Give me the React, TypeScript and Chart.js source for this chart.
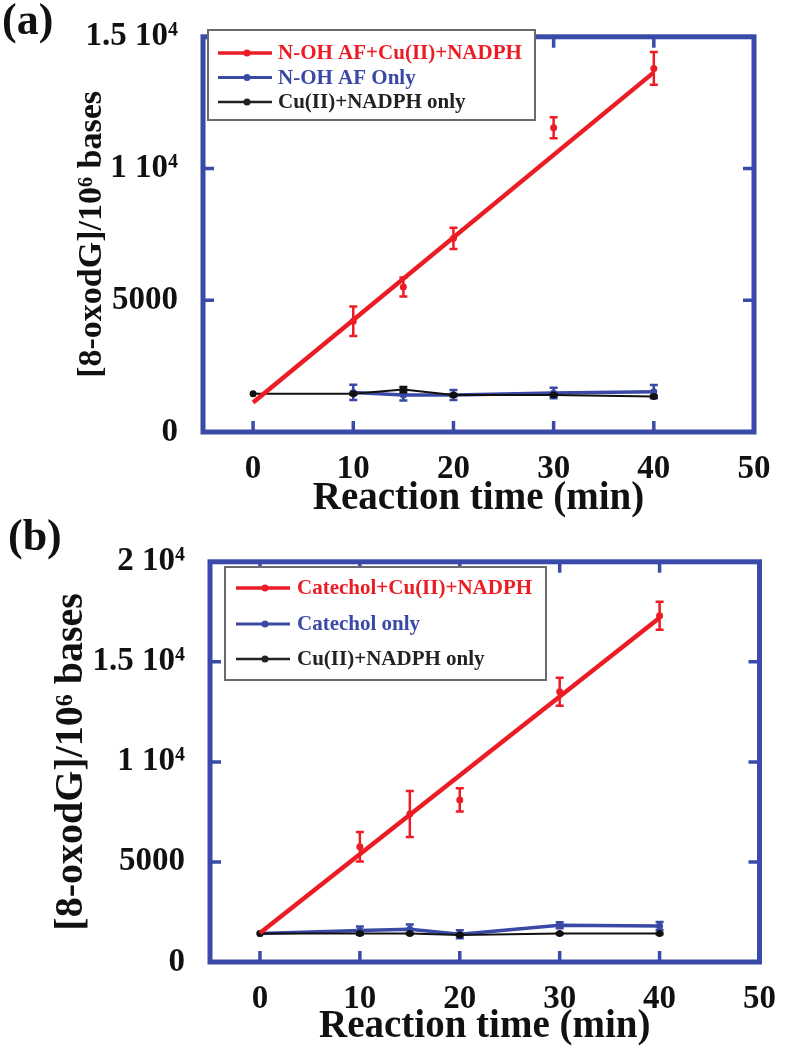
import React, { useEffect, useRef } from 'react';
import { Chart, registerables } from 'chart.js';

Chart.register(...registerables);

const FONT = "'Liberation Serif', 'Times New Roman', Times, serif";
const RED = '#ec1c24';
const BLUE = '#3a49a6';
const BLACK = '#111111';
const FRAME = '#3a4aa8';

// ---------- shared ----------
const xTickValues = [0, 10, 20, 30, 40, 50];
const xTitle = 'Reaction time (min)';
const yTitle = '[8-oxodG]/10⁶ bases';
const fitTimes = [0, 40];

// ---------- panel (a) ----------
const yTickValuesA = [0, 5000, 10000, 15000];
const yTickLabelsA = ['0', '5000', '1 10⁴', '1.5 10⁴'];
const redTimesA = [10, 15, 20, 30, 40];
const redA = [4200, 5500, 7350, 11550, 13800];
const redErrA = [560, 360, 400, 400, 620];
const redFitA = [1120, 13650];
const blueTimesA = [10, 15, 20, 30, 40];
const blueA = [1500, 1400, 1400, 1480, 1530];
const blueErrA = [290, 200, 190, 200, 250];
const blackTimesA = [0, 10, 15, 20, 30, 40];
const blackA = [1450, 1450, 1610, 1400, 1400, 1345];
const blackErrA = [0, 40, 100, 40, 40, 40];
const legendA = ['N-OH AF+Cu(II)+NADPH', 'N-OH AF Only', 'Cu(II)+NADPH only'];

// ---------- panel (b) ----------
const yTickValuesB = [0, 5000, 10000, 15000, 20000];
const yTickLabelsB = ['0', '5000', '1 10⁴', '1.5 10⁴', '2 10⁴'];
const redTimesB = [10, 15, 20, 30, 40];
const redB = [5760, 7400, 8100, 13500, 17300];
const redErrB = [740, 1150, 580, 700, 700];
const redFitB = [1450, 17200];
const blueTimesB = [0, 10, 15, 20, 30, 40];
const blueB = [1420, 1580, 1640, 1390, 1840, 1800];
const blueErrB = [0, 200, 230, 200, 150, 200];
const blackTimesB = [0, 10, 15, 20, 30, 40];
const blackB = [1420, 1420, 1420, 1350, 1420, 1420];
const blackErrB = [0, 30, 30, 30, 30, 30];
const legendB = ['Catechol+Cu(II)+NADPH', 'Catechol only', 'Cu(II)+NADPH only'];

const pts = (xs: number[], ys: number[]) => xs.map((x, i) => ({ x, y: ys[i] }));

const errorBarPlugin = {
  id: 'errorBars',
  afterDatasetDraw(chart: any, args: any) {
    const ds = chart.data.datasets[args.index];
    if (!ds.errors) return;
    const meta = args.meta;
    const y = chart.scales.y;
    const ctx = chart.ctx;
    const cap = 4;
    ctx.save();
    ctx.strokeStyle = ds.borderColor;
    ctx.lineWidth = 2.5;
    ds.data.forEach((d: any, i: number) => {
      const e = ds.errors[i];
      if (!e) return;
      const px = meta.data[i].x;
      const t = y.getPixelForValue(d.y + e);
      const b = y.getPixelForValue(d.y - e);
      ctx.beginPath();
      ctx.moveTo(px, t); ctx.lineTo(px, b);
      ctx.moveTo(px - cap, t); ctx.lineTo(px + cap, t);
      ctx.moveTo(px - cap, b); ctx.lineTo(px + cap, b);
      ctx.stroke();
    });
    ctx.restore();
  },
};

const framePlugin = {
  id: 'frame',
  afterDatasetsDraw(chart: any, _args: any, opts: any) {
    const { ctx, chartArea } = chart;
    const { left, right, top, bottom } = chartArea;
    const x = chart.scales.x;
    const y = chart.scales.y;
    const len = 11;
    ctx.save();
    ctx.strokeStyle = opts.color;
    ctx.lineWidth = 3.5;
    ctx.beginPath();
    x.ticks.forEach((t: any) => {
      const px = x.getPixelForValue(t.value);
      ctx.moveTo(px, bottom); ctx.lineTo(px, bottom - len);
      ctx.moveTo(px, top); ctx.lineTo(px, top + len);
    });
    y.ticks.forEach((t: any) => {
      const py = y.getPixelForValue(t.value);
      ctx.moveTo(left, py); ctx.lineTo(left + len, py);
      ctx.moveTo(right, py); ctx.lineTo(right - len, py);
    });
    ctx.stroke();
    ctx.lineWidth = 5;
    ctx.strokeRect(left, top, right - left, bottom - top);
    ctx.restore();
  },
};

const boxLegendPlugin = {
  id: 'boxLegend',
  afterDraw(chart: any, _args: any, opts: any) {
    const ctx = chart.ctx;
    const [x0, y0, x1, y1] = opts.box;
    ctx.save();
    ctx.fillStyle = '#ffffff';
    ctx.fillRect(x0, y0, x1 - x0, y1 - y0);
    ctx.strokeStyle = '#6a6a6a';
    ctx.lineWidth = 2;
    ctx.strokeRect(x0, y0, x1 - x0, y1 - y0);
    ctx.font = `bold ${opts.fontSize}px ${FONT}`;
    ctx.textBaseline = 'middle';
    ctx.textAlign = 'left';
    opts.items.forEach((it: any, i: number) => {
      const ry = opts.rows[i];
      ctx.strokeStyle = it.color;
      ctx.lineWidth = it.lineWidth;
      ctx.beginPath();
      ctx.moveTo(opts.lineX[0], ry);
      ctx.lineTo(opts.lineX[1], ry);
      ctx.stroke();
      ctx.fillStyle = it.color;
      ctx.beginPath();
      ctx.arc(opts.dotX, ry, 3.5, 0, Math.PI * 2);
      ctx.fill();
      ctx.fillText(it.text, opts.textX, ry + 1);
    });
    ctx.restore();
  },
};

type Panel = {
  yVals: number[];
  yLabels: string[];
  yMax: number;
  redT: number[]; red: number[]; redErr: number[]; redFit: number[];
  blueT: number[]; blue: number[]; blueErr: number[];
  blackT: number[]; black: number[]; blackErr: number[];
  legend: string[];
  yWidth: number; xHeight: number;
  padding: { left: number; top: number; right: number; bottom: number };
  yTitleSize: number; yTitlePad: number;
  legendBox: number[]; legendRows: number[]; legendLineX: number[]; legendDotX: number; legendTextX: number;
};

function makeConfig(p: Panel): any {
  const tickFont = { family: FONT, size: 33, weight: 'bold' as const };
  return {
    type: 'line',
    data: {
      datasets: [
        {
          label: p.legend[0], data: pts(p.redT, p.red), errors: p.redErr,
          borderColor: RED, backgroundColor: RED, showLine: false,
          pointRadius: 3.5, pointBorderWidth: 0, pointBackgroundColor: RED, order: 1,
        },
        {
          label: p.legend[0] + ' fit', data: pts(fitTimes, p.redFit),
          borderColor: RED, borderWidth: 4.5, pointRadius: 0, order: 2,
        },
        {
          label: p.legend[2], data: pts(p.blackT, p.black), errors: p.blackErr,
          borderColor: BLACK, backgroundColor: BLACK, borderWidth: 2,
          pointRadius: 3.5, pointBorderWidth: 0, pointBackgroundColor: BLACK, order: 3,
        },
        {
          label: p.legend[1], data: pts(p.blueT, p.blue), errors: p.blueErr,
          borderColor: BLUE, backgroundColor: BLUE, borderWidth: 3.5,
          pointRadius: 3.5, pointBorderWidth: 0, pointBackgroundColor: BLUE, order: 4,
        },
      ],
    },
    options: {
      responsive: false,
      animation: false,
      events: [],
      layout: { padding: p.padding },
      scales: {
        x: {
          type: 'linear', min: -5, max: 50,
          grid: { display: false }, border: { display: false },
          afterBuildTicks: (s: any) => { s.ticks = xTickValues.map((v) => ({ value: v })); },
          afterFit: (s: any) => { s.height = p.xHeight; },
          ticks: { font: tickFont, color: BLACK, padding: 10, maxRotation: 0, autoSkip: false,
            callback: (v: any) => String(v) },
          title: { display: true, text: xTitle, color: BLACK, padding: 0,
            font: { family: FONT, size: 39, weight: 'bold' } },
        },
        y: {
          type: 'linear', min: 0, max: p.yMax,
          grid: { display: false }, border: { display: false },
          afterBuildTicks: (s: any) => { s.ticks = p.yVals.map((v) => ({ value: v })); },
          afterFit: (s: any) => { s.width = p.yWidth; },
          ticks: { font: tickFont, color: BLACK, padding: 17, autoSkip: false,
            callback: (v: any) => { const i = p.yVals.indexOf(v); return i >= 0 ? p.yLabels[i] : ''; } },
          title: { display: true, text: yTitle, color: BLACK,
            padding: { top: p.yTitlePad, bottom: 0 },
            font: { family: FONT, size: p.yTitleSize, weight: 'bold' } },
        },
      },
      plugins: {
        legend: { display: false },
        tooltip: { enabled: false },
        frame: { color: FRAME },
        boxLegend: {
          box: p.legendBox, rows: p.legendRows, lineX: p.legendLineX, dotX: p.legendDotX,
          textX: p.legendTextX, fontSize: 21,
          items: [
            { text: p.legend[0], color: RED, lineWidth: 3.5 },
            { text: p.legend[1], color: BLUE, lineWidth: 3 },
            { text: p.legend[2], color: '#222222', lineWidth: 2.5 },
          ],
        },
      },
    },
    plugins: [errorBarPlugin, framePlugin, boxLegendPlugin],
  };
}

const panelA: Panel = {
  yVals: yTickValuesA, yLabels: yTickLabelsA, yMax: 15000,
  redT: redTimesA, red: redA, redErr: redErrA, redFit: redFitA,
  blueT: blueTimesA, blue: blueA, blueErr: blueErrA,
  blackT: blackTimesA, black: blackA, blackErr: blackErrA,
  legend: legendA,
  yWidth: 203, xHeight: 90,
  padding: { left: 0, top: 27, right: 32, bottom: 3 },
  yTitleSize: 34, yTitlePad: 72,
  legendBox: [208, 30, 535, 120], legendRows: [53, 77.5, 102], legendLineX: [218, 272], legendDotX: 247, legendTextX: 278,
};

const panelB: Panel = {
  yVals: yTickValuesB, yLabels: yTickLabelsB, yMax: 20000,
  redT: redTimesB, red: redB, redErr: redErrB, redFit: redFitB,
  blueT: blueTimesB, blue: blueB, blueErr: blueErrB,
  blackT: blackTimesB, black: blackB, blackErr: blackErrB,
  legend: legendB,
  yWidth: 210, xHeight: 88,
  padding: { left: 0, top: 27, right: 19, bottom: 0 },
  yTitleSize: 40, yTitlePad: 48,
  legendBox: [225, 42, 546, 155], legendRows: [63, 99, 134], legendLineX: [236, 290], legendDotX: 265, legendTextX: 297,
};

function PanelChart({ panel, top, label, labelLeft, labelTop }: { panel: Panel; top: number; label: string; labelLeft: number; labelTop: number }) {
  const ref = useRef<HTMLCanvasElement | null>(null);
  useEffect(() => {
    if (!ref.current) return;
    const chart = new Chart(ref.current, makeConfig(panel));
    return () => chart.destroy();
  }, [panel]);
  return (
    <>
      <canvas ref={ref} width={786} height={525}
        style={{ position: 'absolute', left: 0, top, width: 786, height: 525 }} />
      <div style={{ position: 'absolute', left: labelLeft, top: labelTop, fontFamily: FONT, fontWeight: 'bold',
        fontSize: 44, lineHeight: '52px', color: BLACK }}>{label}</div>
    </>
  );
}

export default function App() {
  return (
    <div style={{ position: 'absolute', left: 0, top: 0, width: 786, height: 1050, background: '#fff', overflow: 'hidden' }}>
      <PanelChart panel={panelA} top={0} label="(a)" labelLeft={2} labelTop={-6} />
      <PanelChart panel={panelB} top={525} label="(b)" labelLeft={8} labelTop={510} />
    </div>
  );
}
